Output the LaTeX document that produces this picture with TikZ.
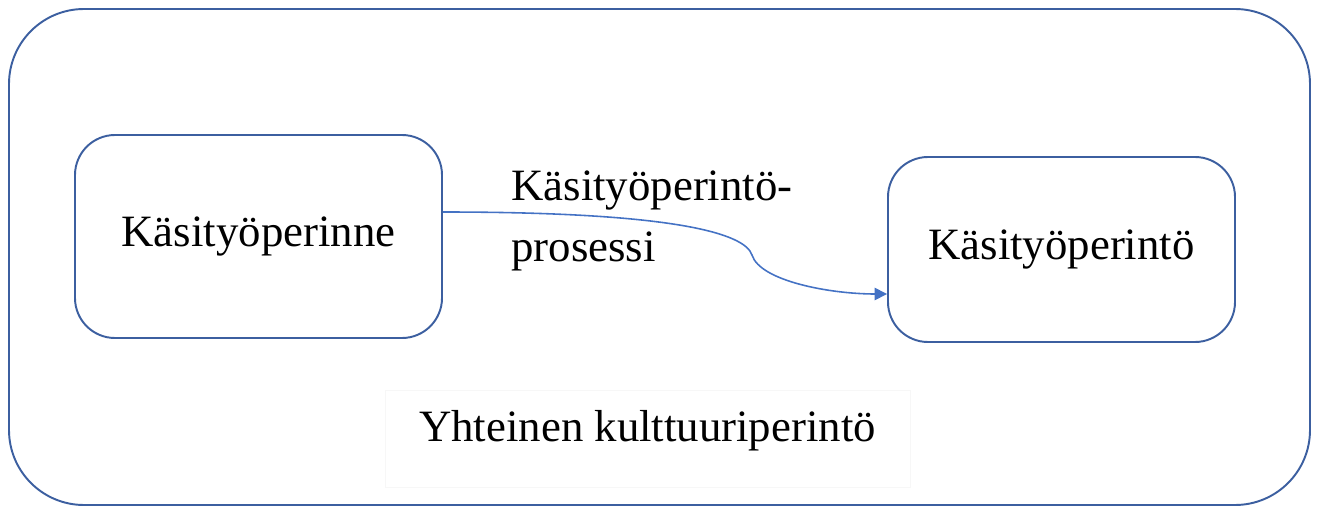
\documentclass[tikz,border=0pt]{standalone}
\usepackage{fontspec}
\setmainfont{Liberation Serif}
\usetikzlibrary{positioning,calc,arrows.meta}
\definecolor{boxblue} {RGB}{ 60, 95,160}
\definecolor{arrblue} {RGB}{ 68,114,196}
\tikzset{%
  frame/.style = {
    draw = boxblue,
    line width = 1.1pt,
    rounded corners = 1.5cm,
  },
  tbox/.style = {
    draw = boxblue,
    line width = 1.1pt,
    rounded corners = 0.8cm,
    align = center,
    font = \fontsize{25.5}{30}\selectfont,
  },
  arrow/.style = {
    -{Triangle[length=7pt,width=7pt]},
    draw = arrblue,
    line width = 0.9pt,
  },
  label/.style = {
    align = left,
    font = \fontsize{25.5}{35}\selectfont,
  },
}

\begin{document}
\begin{tikzpicture}
  \useasboundingbox (0,0) rectangle (26.4,10.12);
  % outer frame
  \draw[frame] (0.18,0.02) rectangle (26.2,9.94);
  % the two boxes
  \node[tbox, minimum width=7.34cm, minimum height=4.06cm] (perinne)
    at (5.17,5.39) {Käsityöperinne};
  \node[tbox, minimum width=6.94cm, minimum height=3.7cm] (perinto)
    at (21.23,5.13) {Käsityöperintö};
  % process arrow
  \coordinate (kink) at (15.04,5.02);
  \draw[arrow] (perinne.east |- 0,5.88)
    .. controls (13.5,5.88) and (14.9,5.45) .. (kink)
    .. controls (15.2,4.5) and (16.6,4.24) .. (perinto.west |- 0,4.24);
  \node[label, anchor=north west, inner sep=0pt] (prosessi)
    at (10.22,6.72) {Käsityöperintö-\\prosessi};
  % bottom caption
  \node[draw=gray!6, label, align=center, minimum width=10.5cm,
        minimum height=1.94cm] (yhteinen)
    at (12.95,1.34) {Yhteinen kulttuuriperintö\\[-0.72cm]};
\end{tikzpicture}
\end{document}
